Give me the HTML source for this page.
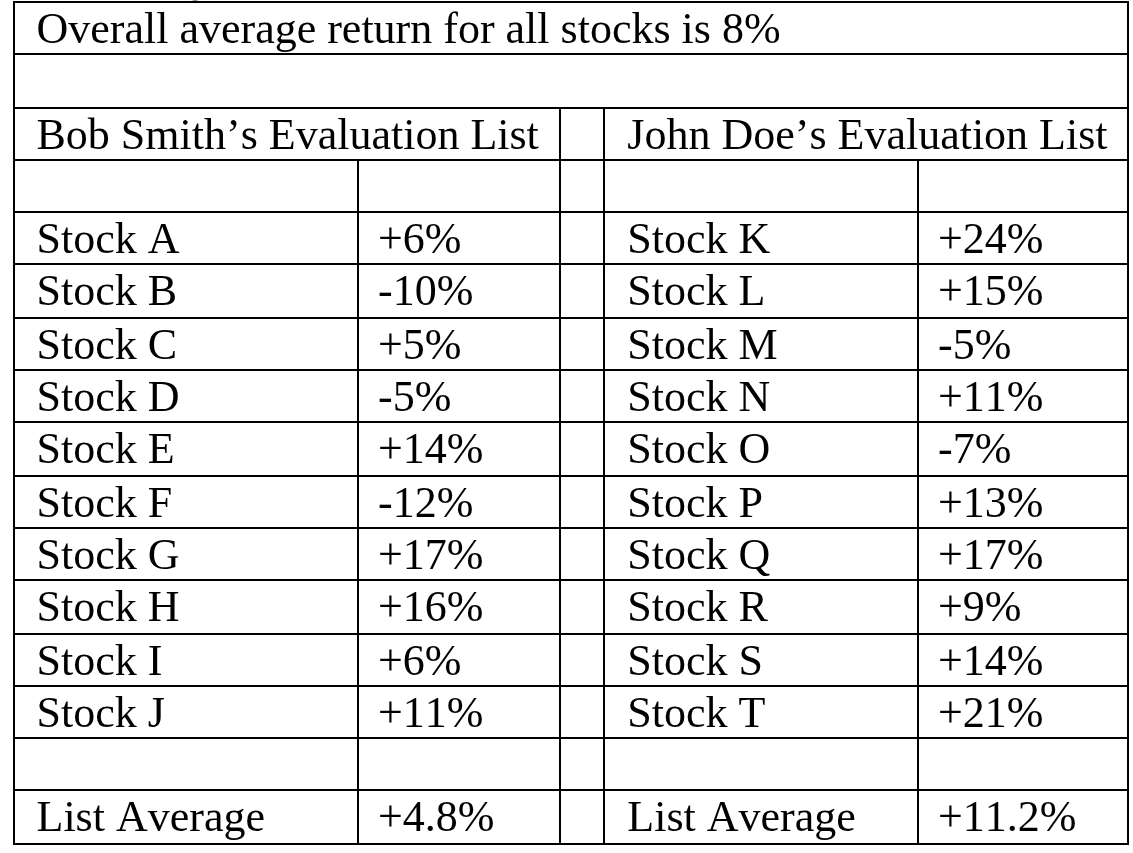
<!DOCTYPE html>
<html><head><meta charset="utf-8"><title>Evaluation Lists</title>
<style>
html,body{margin:0;padding:0;background:#fff;}
body{width:1133px;height:853px;position:relative;overflow:hidden;font-family:"Liberation Serif","Times New Roman",serif;color:#000;}
.h,.v{position:absolute;background:#000;}
.t{position:absolute;white-space:nowrap;font-kerning:none;font-variant-ligatures:none;font-size:44px;line-height:50px;height:50px;}
</style></head><body>

<div class="h" style="left:13px;top:1px;width:1116px;height:2px"></div>
<div class="h" style="left:13px;top:53px;width:1116px;height:2px"></div>
<div class="h" style="left:13px;top:107px;width:1116px;height:2px"></div>
<div class="h" style="left:13px;top:159px;width:1116px;height:2px"></div>
<div class="h" style="left:13px;top:211px;width:1116px;height:2px"></div>
<div class="h" style="left:13px;top:263px;width:1116px;height:2px"></div>
<div class="h" style="left:13px;top:317px;width:1116px;height:2px"></div>
<div class="h" style="left:13px;top:369px;width:1116px;height:2px"></div>
<div class="h" style="left:13px;top:421px;width:1116px;height:2px"></div>
<div class="h" style="left:13px;top:475px;width:1116px;height:2px"></div>
<div class="h" style="left:13px;top:527px;width:1116px;height:2px"></div>
<div class="h" style="left:13px;top:579px;width:1116px;height:2px"></div>
<div class="h" style="left:13px;top:633px;width:1116px;height:2px"></div>
<div class="h" style="left:13px;top:685px;width:1116px;height:2px"></div>
<div class="h" style="left:13px;top:737px;width:1116px;height:2px"></div>
<div class="h" style="left:13px;top:789px;width:1116px;height:2px"></div>
<div class="h" style="left:13px;top:843px;width:1116px;height:2px"></div>
<div class="v" style="left:13px;top:1px;width:2px;height:844px"></div>
<div class="v" style="left:1127px;top:1px;width:2px;height:844px"></div>
<div class="v" style="left:357px;top:159px;width:2px;height:686px"></div>
<div class="v" style="left:559px;top:107px;width:2px;height:738px"></div>
<div class="v" style="left:603px;top:107px;width:2px;height:738px"></div>
<div class="v" style="left:917px;top:159px;width:2px;height:686px"></div>
<div class="t" style="left:36.5px;top:4.45px">Overall average return for all stocks is 8%</div>
<div class="t" style="left:36.5px;top:110.45px">Bob Smith’s Evaluation List</div>
<div class="t" style="left:627.3px;top:110.45px">John Doe’s Evaluation List</div>
<div class="t" style="left:36.5px;top:214.45px">Stock A</div>
<div class="t" style="left:378.0px;top:214.45px">+6%</div>
<div class="t" style="left:627.3px;top:214.45px">Stock K</div>
<div class="t" style="left:938.0px;top:214.45px">+24%</div>
<div class="t" style="left:36.5px;top:266.45px">Stock B</div>
<div class="t" style="left:378.0px;top:266.45px">-10%</div>
<div class="t" style="left:627.3px;top:266.45px">Stock L</div>
<div class="t" style="left:938.0px;top:266.45px">+15%</div>
<div class="t" style="left:36.5px;top:320.45px">Stock C</div>
<div class="t" style="left:378.0px;top:320.45px">+5%</div>
<div class="t" style="left:627.3px;top:320.45px">Stock M</div>
<div class="t" style="left:938.0px;top:320.45px">-5%</div>
<div class="t" style="left:36.5px;top:372.45px">Stock D</div>
<div class="t" style="left:378.0px;top:372.45px">-5%</div>
<div class="t" style="left:627.3px;top:372.45px">Stock N</div>
<div class="t" style="left:938.0px;top:372.45px">+11%</div>
<div class="t" style="left:36.5px;top:424.45px">Stock E</div>
<div class="t" style="left:378.0px;top:424.45px">+14%</div>
<div class="t" style="left:627.3px;top:424.45px">Stock O</div>
<div class="t" style="left:938.0px;top:424.45px">-7%</div>
<div class="t" style="left:36.5px;top:478.45px">Stock F</div>
<div class="t" style="left:378.0px;top:478.45px">-12%</div>
<div class="t" style="left:627.3px;top:478.45px">Stock P</div>
<div class="t" style="left:938.0px;top:478.45px">+13%</div>
<div class="t" style="left:36.5px;top:530.45px">Stock G</div>
<div class="t" style="left:378.0px;top:530.45px">+17%</div>
<div class="t" style="left:627.3px;top:530.45px">Stock Q</div>
<div class="t" style="left:938.0px;top:530.45px">+17%</div>
<div class="t" style="left:36.5px;top:582.45px">Stock H</div>
<div class="t" style="left:378.0px;top:582.45px">+16%</div>
<div class="t" style="left:627.3px;top:582.45px">Stock R</div>
<div class="t" style="left:938.0px;top:582.45px">+9%</div>
<div class="t" style="left:36.5px;top:636.45px">Stock I</div>
<div class="t" style="left:378.0px;top:636.45px">+6%</div>
<div class="t" style="left:627.3px;top:636.45px">Stock S</div>
<div class="t" style="left:938.0px;top:636.45px">+14%</div>
<div class="t" style="left:36.5px;top:688.45px">Stock J</div>
<div class="t" style="left:378.0px;top:688.45px">+11%</div>
<div class="t" style="left:627.3px;top:688.45px">Stock T</div>
<div class="t" style="left:938.0px;top:688.45px">+21%</div>
<div class="t" style="left:36.5px;top:792.45px">List Average</div>
<div class="t" style="left:378.0px;top:792.45px">+4.8%</div>
<div class="t" style="left:627.3px;top:792.45px">List Average</div>
<div class="t" style="left:938.0px;top:792.45px">+11.2%</div>
<div style="position:absolute;left:191px;top:0;width:8px;height:1px;background:linear-gradient(90deg,#fff,#8a8a8a 45%,#8a8a8a 55%,#fff)"></div>
</body></html>
